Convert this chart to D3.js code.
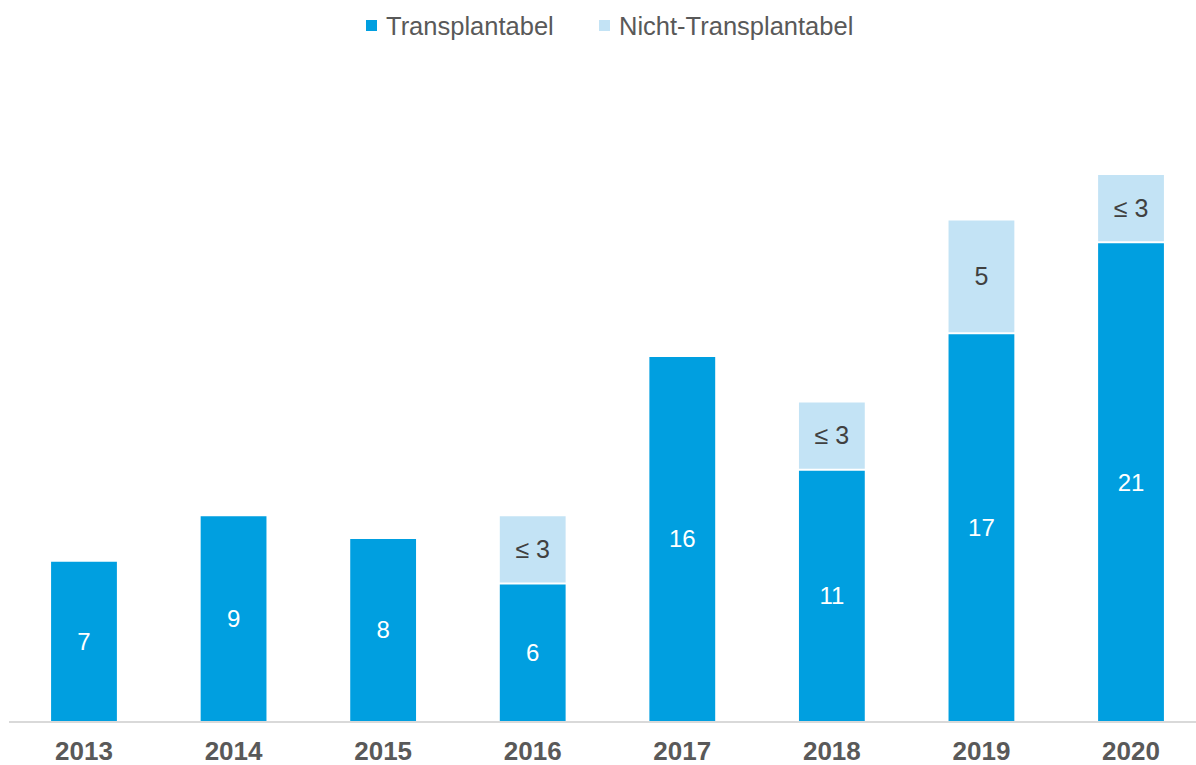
<!DOCTYPE html>
<html>
<head>
<meta charset="utf-8">
<script src="https://cdn.jsdelivr.net/npm/d3@7"></script>
<style>
    body { margin: 0; background: #fff; }
    svg { font-family: "Liberation Sans", Arial, sans-serif; }
</style>
</head>
<body>
<svg id="chart"></svg>
<script>
const width = 1196;
const height = 765;

const years = ['2013', '2014', '2015', '2016', '2017', '2018', '2019', '2020'];
const transplantabel = [7, 9, 8, 6, 16, 11, 17, 21];
const nichtTransplantabel = [0, 0, 0, 3, 0, 3, 5, 3];
const nichtLabels = ['', '', '', '≤ 3', '', '≤ 3', '5', '≤ 3'];
const seriesNames = ['Transplantabel', 'Nicht-Transplantabel'];

const colors = ['#009fe0', '#c3e3f5'];

const chart = d3.select('#chart')
    .attr('width', width)
    .attr('height', height);

const x = d3.scaleBand()
    .domain(years)
    .range([9.2, 1205.8])
    .paddingInner(0.56)
    .paddingOuter(0.28);

const y = d3.scaleLinear()
    .domain([0, 24])
    .range([721, 175]);

const rows = years.map((year, i) => ({
    year,
    t: transplantabel[i],
    n: nichtTransplantabel[i],
    label: nichtLabels[i]
}));

// dark segments
chart.selectAll('rect.t')
    .data(rows)
    .enter().append('rect')
    .attr('class', 't')
    .attr('x', d => x(d.year))
    .attr('width', x.bandwidth())
    .attr('y', d => y(d.t))
    .attr('height', d => y(0) - y(d.t))
    .style('fill', colors[0]);

// light segments on top
chart.selectAll('rect.n')
    .data(rows.filter(d => d.n > 0))
    .enter().append('rect')
    .attr('class', 'n')
    .attr('x', d => x(d.year))
    .attr('width', x.bandwidth())
    .attr('y', d => y(d.t + d.n))
    .attr('height', d => y(d.t) - y(d.t + d.n) - 2)
    .style('fill', colors[1]);

chart.selectAll('text.vt')
    .data(rows)
    .enter().append('text')
    .attr('class', 'vt')
    .attr('x', d => x(d.year) + x.bandwidth() / 2)
    .attr('y', d => (y(0) + y(d.t)) / 2)
    .attr('dy', '0.35em')
    .attr('text-anchor', 'middle')
    .style('font-size', '24px')
    .style('fill', '#fff')
    .text(d => d.t);

chart.selectAll('text.vn')
    .data(rows.filter(d => d.n > 0))
    .enter().append('text')
    .attr('class', 'vn')
    .attr('x', d => x(d.year) + x.bandwidth() / 2)
    .attr('y', d => (y(d.t) + y(d.t + d.n)) / 2 - 1)
    .attr('dy', '0.35em')
    .attr('text-anchor', 'middle')
    .style('font-size', '25px')
    .style('fill', '#404040')
    .text(d => d.label);

// x axis
const axis = chart.append('g')
    .attr('transform', `translate(0, ${y(0) + 1})`)
    .call(d3.axisBottom(x).tickSize(0).tickPadding(20));
axis.select('.domain')
    .attr('d', `M9,0H${width}`)
    .style('stroke', '#d9d9d9')
    .style('stroke-width', 2);
axis.selectAll('text')
    .style('font-family', '"Liberation Sans", Arial, sans-serif')
    .style('font-size', '26px')
    .style('font-weight', 'bold')
    .style('fill', '#595959');

// legend
const legendX = [366, 599];
const legend = chart.selectAll('g.legend')
    .data(seriesNames)
    .enter().append('g')
    .attr('class', 'legend')
    .attr('transform', (_, i) => `translate(${legendX[i]}, 20)`);
legend.append('rect')
    .attr('width', 11)
    .attr('height', 11)
    .style('fill', (_, i) => colors[i]);
legend.append('text')
    .attr('x', 20)
    .attr('y', 15)
    .style('font-size', '25.5px')
    .style('fill', '#595959')
    .text(d => d);
</script>
</body>
</html>
